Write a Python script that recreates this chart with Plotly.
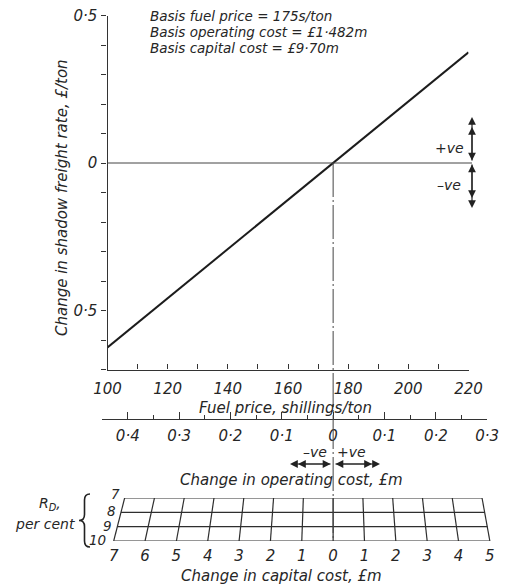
import plotly.graph_objects as go

W, H = 507, 586
FONT = "DejaVu Sans"
INK = "#262626"

# ---- data -------------------------------------------------------------
basis_fuel_price = 175            # s/ton
fuel_price = [100, 220]           # s/ton
rate_change = [-0.625, 0.375]     # change in shadow freight rate, £/ton

fuel_ticks = list(range(100, 221, 10))
fuel_labels = [str(v) if v % 20 == 0 else "" for v in fuel_ticks]

rate_ticks = [-0.7, -0.6, -0.5, -0.4, -0.3, -0.2, -0.1, 0.0, 0.1, 0.2, 0.3, 0.4, 0.5]
rate_labels = ["", "", "0·5", "", "", "", "", "0", "", "", "", "", "0·5"]

# operating-cost scale, tied to the fuel-price scale
op_cost_per_shilling = 0.00586    # £m per s/ton
op_range = [-0.45, 0.3]
op_ticks = [-0.4, -0.3, -0.2, -0.1, 0.0, 0.1, 0.2, 0.3]
op_labels = ["0·4", "0·3", "0·2", "0·1", "0", "0·1", "0·2", "0·3"]
op_minor = [-0.45, -0.35, -0.25, -0.15, -0.05, 0.05, 0.15, 0.25]

# capital-cost nomogram: fuel-price equivalent of £1m capital at each R_D
capital_changes = list(range(-7, 6))
capital_labels = [str(abs(c)) for c in capital_changes]
rd_percent = [7, 8, 9, 10]
fuel_equiv_per_capital = [9.90, 10.07, 10.25, 10.42]   # s/ton per £m

# ---- geometry of the drawing -----------------------------------------
X_LEFT_PX, X_RIGHT_PX = 107.5, 468.5          # fuel 100 .. 220
px_per_unit = (X_RIGHT_PX - X_LEFT_PX) / (fuel_ticks[-1] - fuel_ticks[0])


def fuel_px(f):
    return X_LEFT_PX + (f - fuel_ticks[0]) * px_per_unit


def px(x):
    return x / W


def py(y):
    return 1 - y / H


op_fuel_lo = basis_fuel_price + op_range[0] / op_cost_per_shilling
op_fuel_hi = basis_fuel_price + op_range[1] / op_cost_per_shilling

fig = go.Figure()

# main line
fig.add_trace(go.Scatter(
    x=fuel_price, y=rate_change, mode="lines",
    line=dict(color="#1c1c1c", width=2), hoverinfo="skip", showlegend=False))

# carrier for the operating-cost axis
fig.add_trace(go.Scatter(
    x=[op_ticks[0]], y=[None], xaxis="x2", yaxis="y", mode="markers",
    hoverinfo="skip", showlegend=False))

# capital-cost grid
gx, gy = [], []
for c in capital_changes:
    gx += [basis_fuel_price + c * k for k in fuel_equiv_per_capital] + [None]
    gy += rd_percent + [None]
for r, k in zip(rd_percent, fuel_equiv_per_capital):
    gx += [basis_fuel_price + capital_changes[0] * k,
           basis_fuel_price + capital_changes[-1] * k, None]
    gy += [r, r, None]
fig.add_trace(go.Scatter(
    x=gx, y=gy, xaxis="x3", yaxis="y3", mode="lines",
    line=dict(color="#2e2e2e", width=1.2), hoverinfo="skip", showlegend=False))

tick_font = dict(family=FONT, size=15, color=INK, style="italic")
title_size = 15

x3_range = [fuel_ticks[0] - X_LEFT_PX / px_per_unit,
            fuel_ticks[0] + (W - X_LEFT_PX) / px_per_unit]

fig.update_layout(
    width=W, height=H, autosize=False,
    margin=dict(l=0, r=0, t=0, b=0, pad=0),
    paper_bgcolor="white", plot_bgcolor="rgba(0,0,0,0)",
    font=dict(family=FONT, size=13, color=INK, style="italic"),
    showlegend=False,
    xaxis=dict(
        domain=[px(X_LEFT_PX), px(X_RIGHT_PX)], range=[fuel_ticks[0], fuel_ticks[-1]],
        anchor="y", automargin=False, showline=True, linecolor="#333", linewidth=1.2,
        ticks="inside", ticklen=5, tickwidth=1.2, tickcolor="#333",
        tickvals=fuel_ticks, ticktext=fuel_labels, tickfont=tick_font,
        ticklabelstandoff=5, showgrid=False, zeroline=False, fixedrange=True),
    yaxis=dict(
        domain=[py(369.5), py(15.5)], range=[rate_ticks[0], rate_ticks[-1]],
        anchor="x", automargin=False, showline=True, linecolor="#333", linewidth=1.2,
        ticks="outside", ticklen=5, tickwidth=1.2, tickcolor="#333",
        tickvals=rate_ticks, ticktext=rate_labels, tickfont=tick_font,
        ticklabelstandoff=1, showgrid=False, zeroline=False, fixedrange=True),
    xaxis2=dict(
        domain=[px(fuel_px(op_fuel_lo)), px(fuel_px(op_fuel_hi))], range=op_range,
        anchor="free", position=py(419), automargin=False,
        showline=True, linecolor="#333", linewidth=1.2,
        ticks="inside", ticklen=7, tickwidth=1.2, tickcolor="#333",
        tickvals=op_ticks, ticktext=op_labels, tickfont=tick_font,
        ticklabelstandoff=3,
        minor=dict(tickvals=op_minor, ticks="inside", ticklen=4,
                   tickwidth=1.2, tickcolor="#333"),
        showgrid=False, zeroline=False, fixedrange=True),
    xaxis3=dict(
        domain=[0, 1], range=x3_range, anchor="y3", automargin=False,
        showline=False, ticks="",
        tickvals=[basis_fuel_price + c * fuel_equiv_per_capital[-1] for c in capital_changes],
        ticktext=capital_labels, tickfont=tick_font, ticklabelstandoff=4,
        showgrid=False, zeroline=False, fixedrange=True),
    yaxis3=dict(
        domain=[py(541), py(498)], range=[rd_percent[-1], rd_percent[0]],
        anchor="x3", visible=False, automargin=False, fixedrange=True),
)

# zero line and basis line
fig.add_shape(type="line", xref="paper", yref="y",
              x0=px(X_LEFT_PX), x1=px(472), y0=0, y1=0,
              line=dict(color="#444", width=1))
fig.add_shape(type="line", xref="x", yref="paper",
              x0=basis_fuel_price, x1=basis_fuel_price, y0=py(163), y1=py(541),
              line=dict(color="#444", width=1, dash="34px,3px,2px,3px"))

# brace for R_D
def brace(x_r, x_tip, y0, y1):
    xm = (x_r + x_tip) / 2
    ym = (y0 + y1) / 2
    pts = [("M", x_r, y0), ("Q", xm, y0), ("", xm, y0 + 6), ("L", xm, ym - 6),
           ("Q", xm, ym), ("", x_tip, ym), ("Q", xm, ym), ("", xm, ym + 6),
           ("L", xm, y1 - 6), ("Q", xm, y1), ("", x_r, y1)]
    return " ".join(f"{c} {px(a):.5f},{py(b):.5f}".strip() for c, a, b in pts)

fig.add_shape(type="path", xref="paper", yref="paper",
              path=brace(90, 79, 494, 547), line=dict(color="#222", width=1.6))

ann = []


def text(t, x, y, xanchor="center", size=13, **kw):
    ann.append(dict(text=t, x=px(x), y=py(y), xref="paper", yref="paper",
                    xanchor=xanchor, yanchor="middle", showarrow=False,
                    font=dict(family=FONT, size=size, color=INK, style="italic"), **kw))


def arrow(x, y, ax, ay, start=True):
    ann.append(dict(x=px(x), y=py(y), xref="paper", yref="paper",
                    ax=ax, ay=ay, axref="pixel", ayref="pixel", text="",
                    showarrow=True, arrowhead=2, arrowsize=1.3, arrowwidth=1.2,
                    arrowcolor="#222",
                    arrowside="end+start" if start else "end",
                    startarrowhead=2, startarrowsize=1.3))


text(f"Basis fuel price = {basis_fuel_price}s/ton", 148, 16, "left", 13.5)
text("Basis operating cost = £1·482m", 148, 32, "left", 13.5)
text("Basis capital cost = £9·70m", 148, 48, "left", 13.5)

text("Change in shadow freight rate, £/ton", 62, 198, size=title_size, textangle=-90)
text("Fuel price, shillings/ton", 285, 408, size=title_size)
text("Change in operating cost, £m", 291, 480, size=title_size)
text("Change in capital cost, £m", 281, 576, size=title_size)

text("+ve", 449, 148, size=14)
text("–ve", 449, 185, size=14)
text("–ve", 315, 452, size=14)
text("+ve", 351, 452, size=14)

text("R<sub>D</sub>,", 50, 504, size=14)
text("per cent", 45, 524, size=14)

# R_D row labels along the slanted left edge
rd_label_font = dict(family=FONT, size=13.5, color=INK, style="italic")
for r, k in zip(rd_percent, fuel_equiv_per_capital):
    ann.append(dict(text=str(r), x=basis_fuel_price + capital_changes[0] * k, y=r,
                    xref="x3", yref="y3", xanchor="right", yanchor="middle",
                    xshift=-3 if r < 10 else -6, yshift=4 if r == rd_percent[0] else 1,
                    showarrow=False, font=rd_label_font))

# sign arrows beside the zero line
arrow(472, 117, 0, 45)
arrow(472, 127, 0, 35, start=False)
arrow(472, 208, 0, -45)
arrow(472, 198, 0, -35, start=False)

# sign arrows on the operating-cost scale
arrow(290, 464, 42, 0)
arrow(298, 464, 34, 0, start=False)
arrow(380, 464, -46, 0)
arrow(372, 464, -38, 0, start=False)

fig.update_layout(annotations=ann)
fig.write_html("out.html")
